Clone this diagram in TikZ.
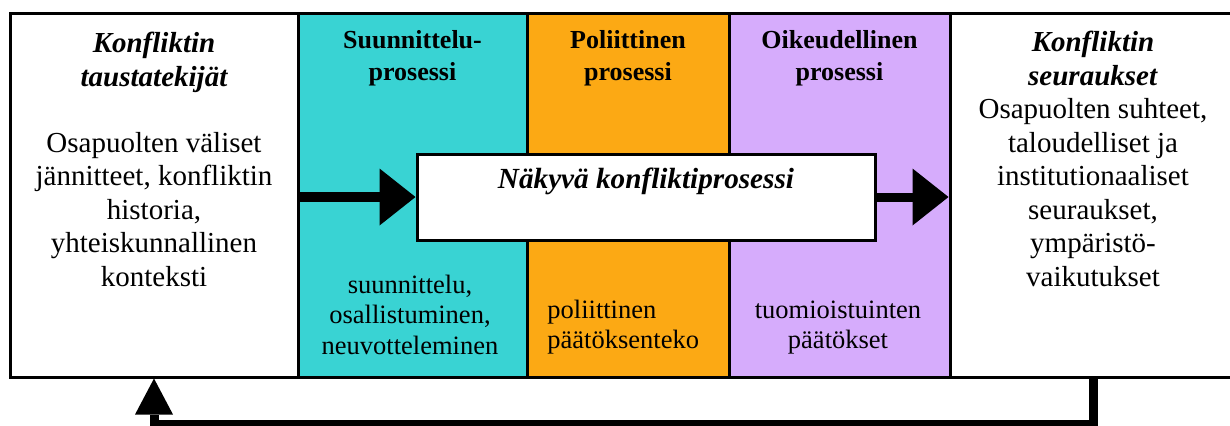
\documentclass[tikz,border=0pt]{standalone}
\usepackage{fontspec}
\setmainfont{Liberation Serif}
\usetikzlibrary{arrows.meta}
\usetikzlibrary{positioning}
\definecolor{suunnittelu}{RGB}{57,211,211}
\definecolor{politiikka}{RGB}{252,169,20}
\definecolor{oikeus}{RGB}{214,172,252}

\tikzset{
  column/.style={draw=black, line width=1.5pt, minimum height=182pt, inner sep=0pt},
  title/.style={font=\fontsize{14.5}{16.75}\selectfont\bfseries\itshape, align=center, inner sep=0pt},
  body/.style={font=\fontsize{14.5}{16.75}\selectfont, align=center, inner sep=0pt},
  head/.style={font=\fontsize{13}{16}\selectfont\bfseries, align=center, inner sep=0pt},
  small/.style={font=\fontsize{13.25}{15.25}\selectfont, inner sep=0pt},
  bigarrow/.style={line width=5pt, -{Triangle[length=18pt, width=28.5pt, line width=0pt]}}
}

\begin{document}
\begin{tikzpicture}[x=0.5pt, y=-0.5pt]
      \useasboundingbox (0,0) rectangle (1230,425);
      % columns
      \node (tausta) [column, fill=white, minimum width=144pt] at (154,195) {};
      \node (suunn) [column, fill=suunnittelu, minimum width=114.5pt] at (412.5,195) {};
      \node (polit) [column, fill=politiikka, minimum width=101pt] at (628,195) {};
      \node (oikeus) [column, fill=oikeus, minimum width=110.5pt] at (839.5,195) {};
      \node (seuraus) [column, fill=white, minimum width=143pt] at (1093,195) {};
      % texts
      \node (taustaotsikko) [title, anchor=north] at (154,32) {Konfliktin\\taustatekijät};
      \node (taustateksti) [body, anchor=south] at (154,287) {Osapuolten väliset\\jännitteet, konfliktin\\historia,\\yhteiskunnallinen\\konteksti};
      \node (suunnotsikko) [head, anchor=north] at (412.5,30) {Suunnittelu-\\prosessi};
      \node (polotsikko) [head, anchor=north] at (628,30) {Poliittinen\\prosessi};
      \node (oikotsikko) [head, anchor=north] at (839.5,30) {Oikeudellinen\\prosessi};
      \node (suunnteksti) [small, align=center, anchor=south] at (410,355) {suunnittelu,\\osallistuminen,\\neuvotteleminen};
      \node (polteksti) [small, align=left, anchor=south west] at (547,355) {poliittinen\\päätöksenteko};
      \node (oikteksti) [small, align=center, anchor=south] at (838,355) {tuomioistuinten\\päätökset};
      \node (seurausteksti) [body, anchor=south] at (1093,287) {\textbf{\textit{Konfliktin}}\\\textbf{\textit{seuraukset}}\\Osapuolten suhteet,\\taloudelliset ja\\institutionaaliset\\seuraukset,\\ympäristö-\\vaikutukset};
      % visible process
      \node (konflikti) [draw=black, line width=1.5pt, fill=white, minimum width=229pt, minimum height=43pt, inner sep=0pt] at (646,197) {};
      \node (konfliktiotsikko) [font=\fontsize{14.6}{16}\selectfont\bfseries\itshape, anchor=base, inner sep=0pt] at (646,188) {Näkyvä konfliktiprosessi};
      \draw [bigarrow] (tausta.east |- konflikti.west) -- (konflikti.west);
      \draw [bigarrow, line width=4.5pt] (konflikti.east) -- (seuraus.west |- konflikti.east);
      % feedback
      \draw [line width=4.5pt, -{Triangle[length=18pt, width=19pt, line width=0pt]}] (seuraus.south) -- ++(0,46) -| (tausta.south);
\end{tikzpicture}
\end{document}
